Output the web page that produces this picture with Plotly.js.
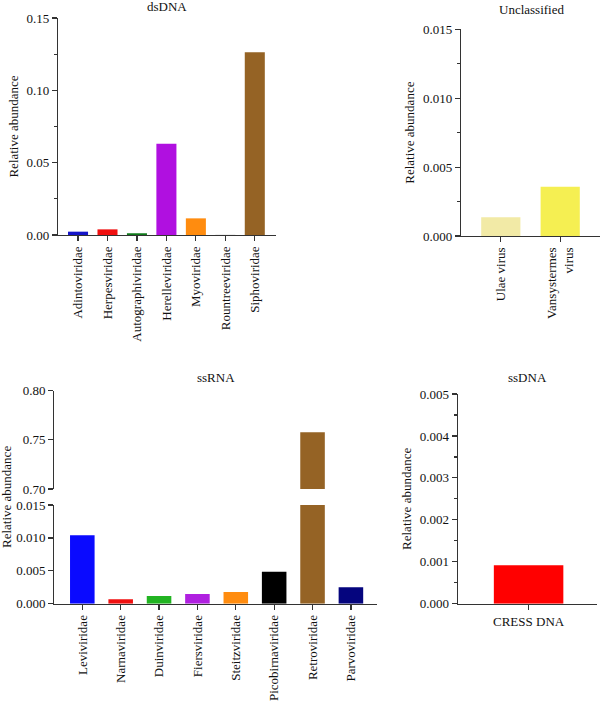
<!DOCTYPE html>
<html>
<head>
<meta charset="utf-8">
<script src="https://cdn.plot.ly/plotly-3.0.1.min.js"></script>
<style>html,body{margin:0;padding:0;background:#fff;}#chart{width:600px;height:701px;}</style>
</head>
<body>
<div id="chart"></div>
<script>
// dsDNA
const dsdnaCats = ['Adintoviridae','Herpesviridae','Autographiviridae','Herelleviridae','Myoviridae','Rountreeviridae','Siphoviridae'];
const dsdnaVals = [0.0023, 0.0039, 0.0012, 0.0630, 0.0115, 0.0001, 0.1263];
const dsdnaColors = ['#1515c8','#f01010','#0f7a1a','#b010e0','#ff8c0f','#8a8a8a','#956325'];
// Unclassified
const unclCats = ['Ulae virus','Vansystermes<br>virus'];
const unclVals = [0.00136, 0.00358];
const unclColors = ['#f2eaa6','#f5ef52'];
// ssRNA
const ssrnaCats = ['Leviviridae','Narnaviridae','Duinviridae','Fiersviridae','Steitzviridae','Picobirnaviridae','Retroviridae','Parvoviridae'];
const ssrnaVals = [0.0104, 0.00067, 0.00117, 0.00147, 0.00178, 0.00486, 0.7577, 0.0025];
const ssrnaColors = ['#0a0aff','#f01010','#22b422','#b020e0','#ff8c0f','#000000','#956325','#05057e'];
// ssDNA
const ssdnaCats = ['CRESS DNA'];
const ssdnaVals = [0.000916];
const ssdnaColors = ['#ff0000'];

const FONT = 'Liberation Serif, Times New Roman, serif';
const FS = 13;
const tickFont = {family: FONT, size: FS, color: '#111'};

function H(px){ return 1 - px/701; }
function W(px){ return px/600; }

const traces = [
  {type:'bar', x: dsdnaCats, y: dsdnaVals, marker:{color: dsdnaColors}, width:0.68, xaxis:'x', yaxis:'y'},
  {type:'bar', x: unclCats, y: unclVals, marker:{color: unclColors}, width:0.66, xaxis:'x2', yaxis:'y2'},
  {type:'bar', x: ssrnaCats, y: ssrnaVals, marker:{color: ssrnaColors}, width:0.64, xaxis:'x3', yaxis:'y3'},
  {type:'bar', x: ssrnaCats, y: ssrnaVals, marker:{color: ssrnaColors}, width:0.64, xaxis:'x3', yaxis:'y4'},
  {type:'bar', x: ssdnaCats, y: ssdnaVals, marker:{color: ssdnaColors}, width:0.5, xaxis:'x5', yaxis:'y5'}
];

const yBase = {
  showline:true, linecolor:'#333', linewidth:1.2, ticks:'outside', ticklen:5, tickwidth:1.2, tickcolor:'#333',
  showgrid:false, zeroline:false, tickfont: tickFont, fixedrange:true
};
const xBase = {
  showline:true, linecolor:'#333', linewidth:1.2, ticks:'outside', ticklen:5, tickwidth:1.2, tickcolor:'#333',
  showgrid:false, zeroline:false, tickfont: tickFont, tickangle:-90, type:'category', fixedrange:true
};
const ytitle = (s) => ({text:'Relative abundance', font:{family:FONT, size:FS, color:'#111'}, standoff:s});
const ann = (t, px, py, extra) => Object.assign({text:t, xref:'paper', yref:'paper', x:W(px), y:H(py), xanchor:'center', yanchor:'middle', showarrow:false, font:{family:FONT,size:FS,color:'#111'}}, extra||{});

const layout = {
  width:600, height:701, margin:{l:0,r:0,t:0,b:0}, showlegend:false,
  paper_bgcolor:'#fff', plot_bgcolor:'rgba(0,0,0,0)',
  font:{family:FONT, size:FS, color:'#111'},
  xaxis: Object.assign({}, xBase, {domain:[W(58), W(276)], range:[-0.68, 6.72], anchor:'y'}),
  yaxis: Object.assign({}, yBase, {domain:[H(235), H(18)], range:[0,0.15], tickvals:[0,0.05,0.10,0.15], ticktext:['0.00','0.05','0.10','0.15'], anchor:'x',
    minor:{tickvals:[0.025,0.075,0.125], ticks:'outside', ticklen:3, tickcolor:'#333'}, title: ytitle(5)}),
  xaxis2: Object.assign({}, xBase, {domain:[W(461), W(600)], range:[-0.67, 1.67], anchor:'y2'}),
  yaxis2: Object.assign({}, yBase, {domain:[H(236), H(29.3)], range:[0,0.015], tickvals:[0,0.005,0.010,0.015], ticktext:['0.000','0.005','0.010','0.015'], anchor:'x2',
    minor:{tickvals:[0.0025,0.0075,0.0125], ticks:'outside', ticklen:3, tickcolor:'#333'}, title: ytitle(5)}),
  xaxis3: Object.assign({}, xBase, {domain:[W(54.3), W(377)], range:[-0.73, 7.68], anchor:'y3'}),
  yaxis3: Object.assign({}, yBase, {domain:[H(603.7), H(505)], range:[0,0.015], tickvals:[0,0.005,0.010,0.015], ticktext:['0.000','0.005','0.010','0.015'], anchor:'x3'}),
  yaxis4: Object.assign({}, yBase, {domain:[H(489), H(390.7)], range:[0.70,0.80], tickvals:[0.70,0.75,0.80], ticktext:['0.70','0.75','0.80'], anchor:'x3'}),
  xaxis5: Object.assign({}, xBase, {domain:[W(457.7), W(596.7)], range:[-0.51, 0.49], anchor:'y5', tickangle:0}),
  yaxis5: Object.assign({}, yBase, {domain:[H(603.7), H(394)], range:[0,0.005], tickvals:[0,0.001,0.002,0.003,0.004,0.005], ticktext:['0.000','0.001','0.002','0.003','0.004','0.005'], anchor:'x5',
    minor:{tickvals:[0.0005,0.0015,0.0025,0.0035,0.0045], ticks:'outside', ticklen:3, tickcolor:'#333'}, title: ytitle(5)}),
  annotations: [
    ann('dsDNA', 167, 7),
    ann('Unclassified', 531, 10),
    ann('ssRNA', 216, 377),
    ann('ssDNA', 527, 378),
    ann('Relative abundance', 6, 497, {textangle:-90})
  ]
};

Plotly.newPlot('chart', traces, layout, {staticPlot:true, displayModeBar:false});
</script>
</body>
</html>
